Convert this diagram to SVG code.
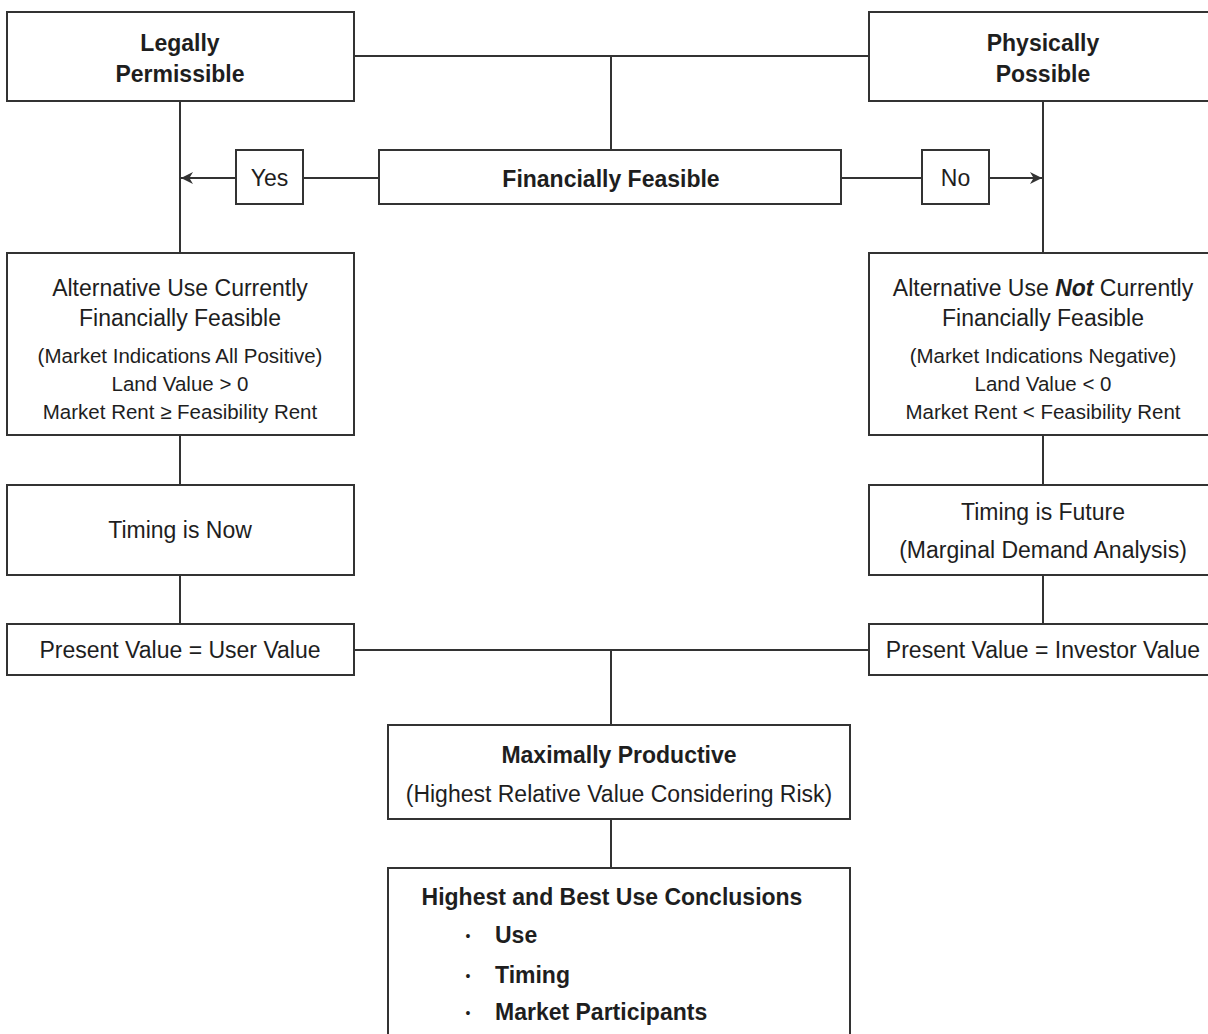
<svg xmlns="http://www.w3.org/2000/svg" width="1208" height="1034" viewBox="0 0 1208 1034">
<style>
.box{fill:#fff;stroke:#333;stroke-width:2}
.ln{fill:none;stroke:#333;stroke-width:2}
text{font-family:"Liberation Sans",Arial,sans-serif;fill:#1e1e1e;text-anchor:middle}
.b{font-weight:bold}
.r{font-size:23px}
.s{font-size:20.5px}
.st{text-anchor:start}
</style>
<defs>
<marker id="ah" viewBox="0 0 10 10" refX="10" refY="5" markerWidth="12" markerHeight="12" markerUnits="userSpaceOnUse" orient="auto">
<path d="M0,0 L10,5 L0,10 L3,5 Z" fill="#333"/>
</marker>
</defs>
<rect width="1208" height="1034" fill="#fff"/>
<g id="connectors">
<line class="ln" x1="354" y1="56" x2="869" y2="56"/>
<line class="ln" x1="611" y1="56" x2="611" y2="150"/>
<line class="ln" x1="180" y1="101" x2="180" y2="253"/>
<line class="ln" x1="1043" y1="101" x2="1043" y2="253"/>
<line class="ln" x1="303" y1="178" x2="379" y2="178"/>
<line class="ln" x1="236" y1="178" x2="181" y2="178" marker-end="url(#ah)"/>
<line class="ln" x1="841" y1="178" x2="922" y2="178"/>
<line class="ln" x1="989" y1="178" x2="1042" y2="178" marker-end="url(#ah)"/>
<line class="ln" x1="180" y1="435" x2="180" y2="485"/>
<line class="ln" x1="1043" y1="435" x2="1043" y2="485"/>
<line class="ln" x1="180" y1="575" x2="180" y2="624"/>
<line class="ln" x1="1043" y1="575" x2="1043" y2="624"/>
<line class="ln" x1="354" y1="650" x2="869" y2="650"/>
<line class="ln" x1="611" y1="650" x2="611" y2="725"/>
<line class="ln" x1="611" y1="819" x2="611" y2="868"/>
</g>
<g id="legally">
<rect class="box" x="7" y="12" width="347" height="89"/>
<text class="b" x="180" y="51" font-size="23">Legally</text>
<text class="b" x="180" y="82" font-size="23">Permissible</text>
</g>
<g id="physically">
<rect class="box" x="869" y="12" width="347" height="89"/>
<text class="b" x="1043" y="51" font-size="23">Physically</text>
<text class="b" x="1043" y="82" font-size="23">Possible</text>
</g>
<g id="financially">
<rect class="box" x="379" y="150" width="462" height="54"/>
<text class="b" x="611" y="187" font-size="23">Financially Feasible</text>
</g>
<g id="yes">
<rect class="box" x="236" y="150" width="67" height="54"/>
<text class="r" x="269.5" y="186">Yes</text>
</g>
<g id="no">
<rect class="box" x="922" y="150" width="67" height="54"/>
<text class="r" x="955.5" y="186">No</text>
</g>
<g id="alt-feasible">
<rect class="box" x="7" y="253" width="347" height="182"/>
<text class="r" x="180" y="296">Alternative Use Currently</text>
<text class="r" x="180" y="326">Financially Feasible</text>
<text class="s" x="180" y="363">(Market Indications All Positive)</text>
<text class="s" x="180" y="391">Land Value &gt; 0</text>
<text class="s" x="180" y="419">Market Rent ≥ Feasibility Rent</text>
</g>
<g id="alt-not-feasible">
<rect class="box" x="869" y="253" width="347" height="182"/>
<text class="r" x="1043" y="296">Alternative Use <tspan font-weight="bold" font-style="italic">Not</tspan> Currently</text>
<text class="r" x="1043" y="326">Financially Feasible</text>
<text class="s" x="1043" y="363">(Market Indications Negative)</text>
<text class="s" x="1043" y="391">Land Value &lt; 0</text>
<text class="s" x="1043" y="419">Market Rent &lt; Feasibility Rent</text>
</g>
<g id="timing-now">
<rect class="box" x="7" y="485" width="347" height="90"/>
<text class="r" x="180" y="538">Timing is Now</text>
</g>
<g id="timing-future">
<rect class="box" x="869" y="485" width="347" height="90"/>
<text class="r" x="1043" y="520">Timing is Future</text>
<text class="r" x="1043" y="558">(Marginal Demand Analysis)</text>
</g>
<g id="pv-user">
<rect class="box" x="7" y="624" width="347" height="51"/>
<text class="r" x="180" y="658">Present Value = User Value</text>
</g>
<g id="pv-investor">
<rect class="box" x="869" y="624" width="347" height="51"/>
<text class="r" x="1043" y="658">Present Value = Investor Value</text>
</g>
<g id="maximally">
<rect class="box" x="388" y="725" width="462" height="94"/>
<text class="b" x="619" y="763" font-size="23">Maximally Productive</text>
<text class="r" x="619" y="802">(Highest Relative Value Considering Risk)</text>
</g>
<g id="hbu">
<rect class="box" x="388" y="868" width="462" height="190"/>
<text class="b" x="612" y="905" font-size="23">Highest and Best Use Conclusions</text>
<text x="468" y="941" font-size="14">•</text>
<text x="468" y="981" font-size="14">•</text>
<text x="468" y="1018" font-size="14">•</text>
<text class="b st" x="495" y="943" font-size="23">Use</text>
<text class="b st" x="495" y="983" font-size="23">Timing</text>
<text class="b st" x="495" y="1020" font-size="23">Market Participants</text>
</g>
</svg>
